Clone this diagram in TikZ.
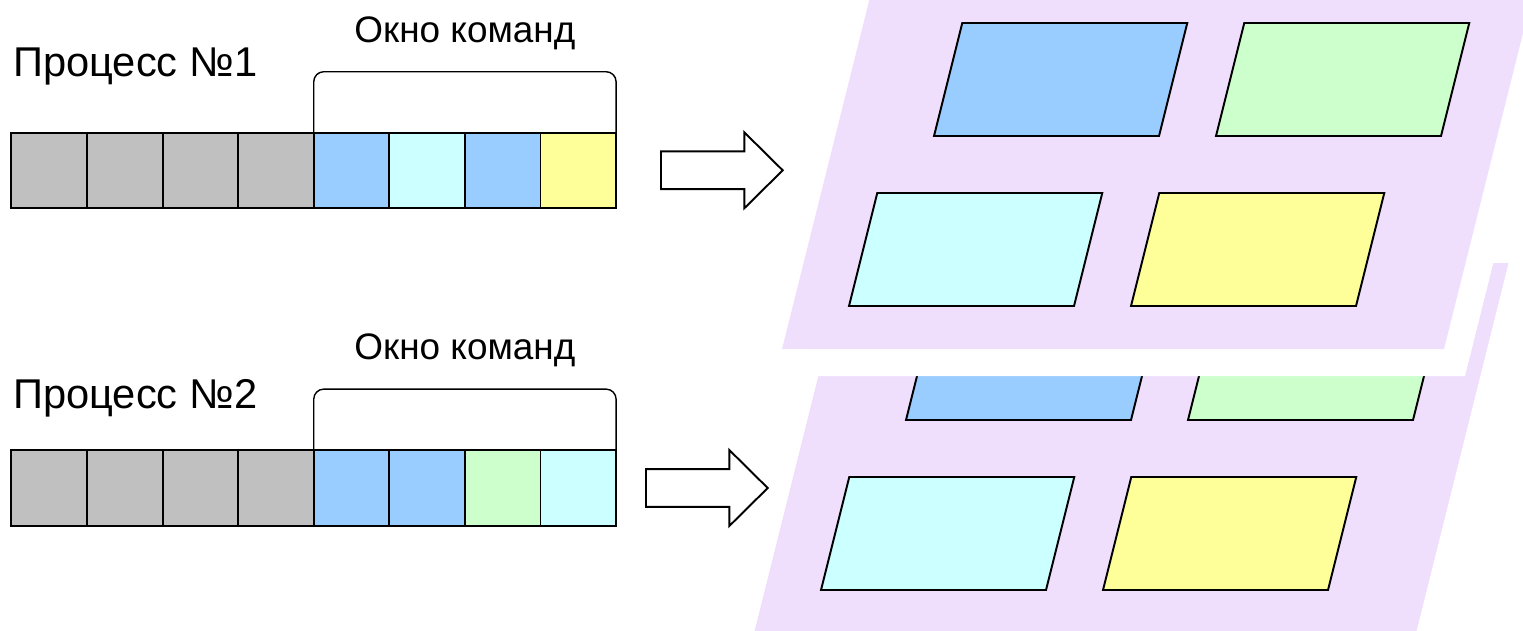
\documentclass[tikz,border=0pt]{standalone}
\usepackage{fontspec}
\setmainfont{Liberation Sans}
\usetikzlibrary{positioning,calc}
\definecolor{cmdgray}{RGB}{192,192,192}
\definecolor{cmdblue}{RGB}{153,204,255}
\definecolor{cmdcyan}{RGB}{204,255,255}
\definecolor{cmdyellow}{RGB}{255,255,153}
\definecolor{cmdgreen}{RGB}{204,255,204}
\definecolor{planebg}{RGB}{239,223,253}

% one layer of executing units: background plane and four tiles
\newcommand{\cmdlayer}{%
  \fill[plane] (782,349) -- ++(662,0) -- ++(92.5,-370) -- ++(-662,0) -- cycle;
  \foreach \px/\py/\c in {934/136/cmdblue, 1216/136/cmdgreen,
                          849/306/cmdcyan, 1131/306/cmdyellow}
    \draw[tile=\c] (\px,\py) -- ++(225,0) -- ++(28.25,-113) -- ++(-225,0) -- cycle;
}

\begin{document}
\begin{tikzpicture}[
  x=0.02cm, y=-0.02cm,
  cell/.style={rectangle, draw, line width=1.1pt, fill=#1,
               minimum size=1.512cm, inner sep=0pt, outer sep=0pt},
  proclabel/.style={font=\fontsize{23.7}{28}\selectfont, inner sep=0pt},
  wintitle/.style={font=\fontsize{21}{25}\selectfont, inner sep=0pt},
  brace/.style={line width=0.8pt, rounded corners=0.2cm},
  bigarrow/.style={draw, line width=1.1pt, fill=white, line join=miter},
  tile/.style={draw, line width=1.1pt, fill=#1},
  plane/.style={fill=planebg}
]
  \useasboundingbox (0,0) rectangle (1523,630);

  % Layers on the right, lower one first
  \begin{scope}
    \clip (0,0) rectangle (1523,630);
    \begin{scope}[shift={(-28,284)}]
      \cmdlayer
    \end{scope}
    % white shadow of the upper layer
    \fill[white] (803,376) -- ++(662,0) -- ++(92.5,-370) -- ++(-662,0) -- cycle;
    \cmdlayer
  \end{scope}

  % Process 1
  \node[cell=cmdgray] (p1-1) at (49.2,170.5) {};
  \foreach \c [count=\i from 2] in {cmdgray,cmdgray,cmdgray,cmdblue,cmdcyan,cmdblue,cmdyellow}{
    \pgfmathtruncatemacro\prev{\i-1}
    \node[cell=\c, right=0pt of p1-\prev] (p1-\i) {};
  }
  \node[proclabel, anchor=base west] (n1) at (13,76) {Процесс №1};
  \draw[brace] (p1-5.north west) -- ++(0,-61) -- ($(p1-8.north east)+(0,-61)$) -- (p1-8.north east);
  \coordinate (w1) at ($(p1-5.north west)!0.5!(p1-8.north east)+(0,-61)$);
  \node[wintitle, above=0.43cm of w1] (t1) {Окно команд};
  \draw[bigarrow, shift={(661,170.3)}] (0,-18.9) -- (83.3,-18.9) -- (83.3,-38) -- (121.7,0)
    -- (83.3,38) -- (83.3,18.9) -- (0,18.9) -- cycle;

  % Process 2
  \node[cell=cmdgray] (p2-1) at (49.2,487.9) {};
  \foreach \c [count=\i from 2] in {cmdgray,cmdgray,cmdgray,cmdblue,cmdblue,cmdgreen,cmdcyan}{
    \pgfmathtruncatemacro\prev{\i-1}
    \node[cell=\c, right=0pt of p2-\prev] (p2-\i) {};
  }
  \node[proclabel, anchor=base west] (n2) at (13,408.3) {Процесс №2};
  \draw[brace] (p2-5.north west) -- ++(0,-61) -- ($(p2-8.north east)+(0,-61)$) -- (p2-8.north east);
  \coordinate (w2) at ($(p2-5.north west)!0.5!(p2-8.north east)+(0,-61)$);
  \node[wintitle, above=0.43cm of w2] (t2) {Окно команд};
  \draw[bigarrow, shift={(646,488)}] (0,-18.9) -- (83.3,-18.9) -- (83.3,-38) -- (121.7,0)
    -- (83.3,38) -- (83.3,18.9) -- (0,18.9) -- cycle;
\end{tikzpicture}
\end{document}
